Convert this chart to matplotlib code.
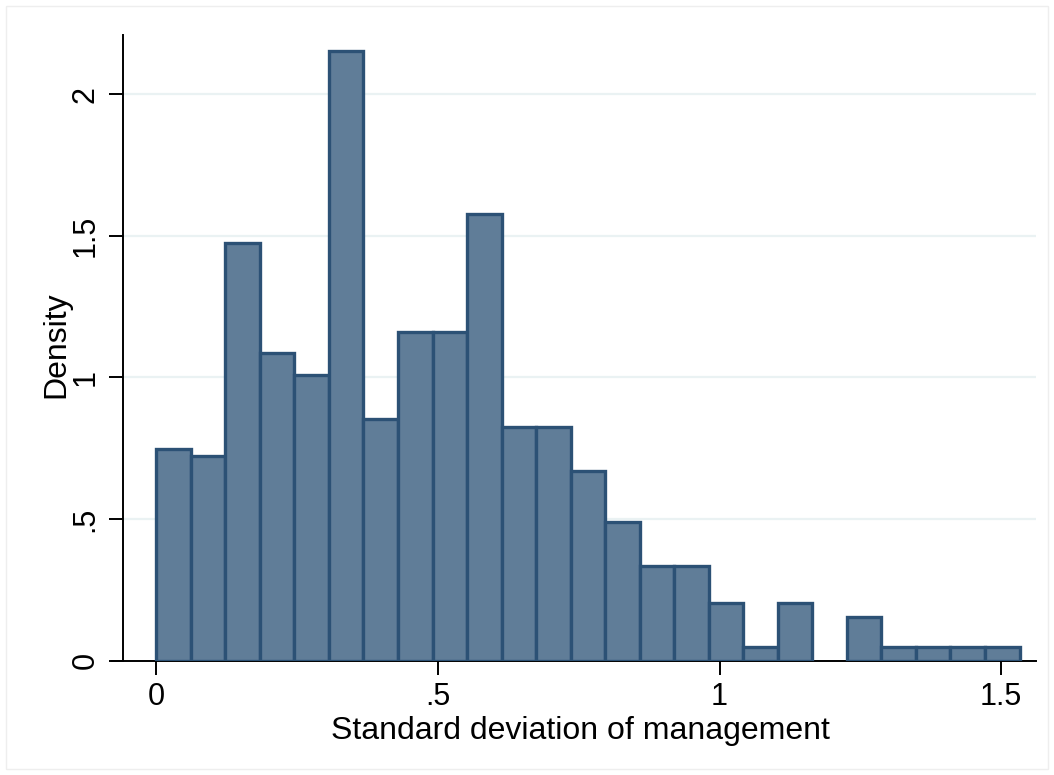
import matplotlib
matplotlib.use("agg")
import matplotlib.pyplot as plt
import numpy as np
from matplotlib.patches import Rectangle

plt.rcParams.update({
    "font.family": ["Liberation Sans", "DejaVu Sans"],
    "font.size": 22,
})

# histogram: 25 equal bins starting at 0
BIN_START = 0.0
BIN_WIDTH = 0.0613
density = [0.747, 0.722, 1.476, 1.085, 1.007, 2.152, 0.852, 1.162, 1.162, 1.578,
           0.826, 0.826, 0.670, 0.489, 0.334, 0.334, 0.203, 0.047, 0.203, 0.0,
           0.153, 0.047, 0.047, 0.047, 0.047]
xticks = [0, 0.5, 1, 1.5]
xtick_labels = ["0", ".5", "1", "1.5"]
yticks = [0, 0.5, 1, 1.5, 2]
ytick_labels = ["0", ".5", "1", "1.5", "2"]

FILL = "#607d98"
EDGE = "#2c5175"
GRID = "#eaf2f3"

density = np.array(density)
left_edges = BIN_START + BIN_WIDTH * np.arange(len(density))
nonempty = density > 0

W, H = 1054, 775
x0, x1 = 112, 1036       # x axis line extent (px)
yb, yt = 660.7, 35       # y axis line extent (px)
yaxis_px = 122.7

fig = plt.figure(figsize=(W / 100, H / 100), dpi=100)
ax = fig.add_axes([x0 / W, 1 - yb / H, (x1 - x0) / W, (yb - yt) / H])

frac = (yaxis_px - x0) / (x1 - x0)
for s in ("top", "right"):
    ax.spines[s].set_visible(False)
ax.spines["left"].set_position(("axes", frac))

ax.bar(left_edges[nonempty], density[nonempty], width=BIN_WIDTH, align="edge",
       color=FILL, edgecolor=EDGE, linewidth=2.4, zorder=3)

ax.set_xlim(-0.0786, 1.5617)
ax.set_ylim(0, 2.209)
ax.set_xticks(xticks)
ax.set_xticklabels(xtick_labels)
ax.set_yticks(yticks)
ax.set_yticklabels(ytick_labels, rotation=90, va="center")

for yv in yticks[1:]:
    ax.axhline(yv, xmin=frac, xmax=1, color=GRID, lw=1.6, zorder=0)

for s in ("left", "bottom"):
    ax.spines[s].set_linewidth(1.4)
ax.tick_params(axis="both", length=10, width=1.4, labelsize=22)
ax.tick_params(axis="x", pad=5)
ax.tick_params(axis="y", pad=6)

ax.set_xlabel("Standard deviation of management", fontsize=23)
ax.set_ylabel("Density", fontsize=23)
ax.xaxis.set_label_coords((580 - x0) / (x1 - x0), (yb - 716) / (yb - yt))
ax.yaxis.set_label_coords((71 - x0) / (x1 - x0), (yb - 345) / (yb - yt))

fig.patches.append(Rectangle((0.006, 0.008), 0.988, 0.984, transform=fig.transFigure,
                             fill=False, edgecolor="#eeeeee", lw=1))

fig.savefig("out.png", dpi=100)
